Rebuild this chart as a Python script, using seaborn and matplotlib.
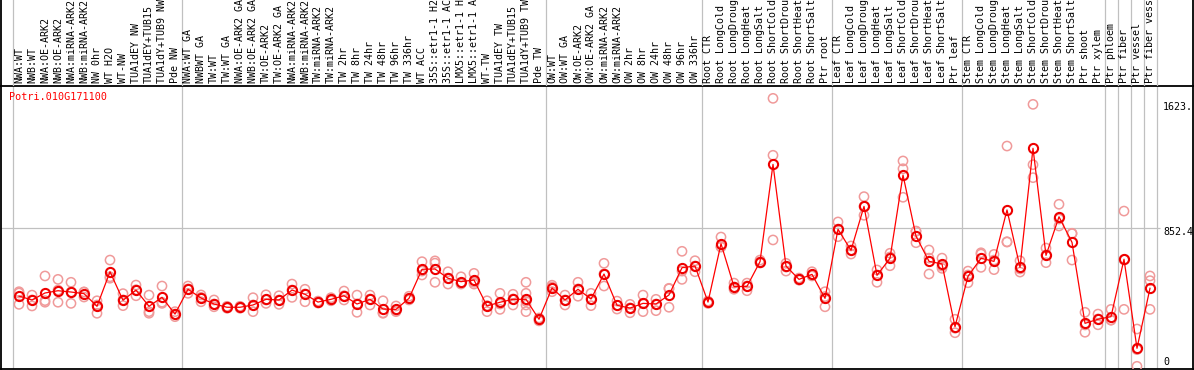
import numpy as np
import pandas as pd
import matplotlib
matplotlib.use("Agg")
import matplotlib.pyplot as plt
import seaborn as sns

gene = "Potri.010G171100"

labels = [
    "NWA:WT", "NWB:WT", "NWA:OE-ARK2", "NWB:OE-ARK2", "NWA:miRNA-ARK2", "NWB:miRNA-ARK2",
    "NW 0hr", "WT H2O", "WT-NW", "TUA1dEY NW", "TUA1dEY+TUB15", "TUA1dY+TUB9 NW", "Pde NW",
    "NWA:WT GA", "NWBWT GA", "TW:WT", "TW:WT GA", "NWA:OE-ARK2 GA", "NWB:OE-ARK2 GA",
    "TW:OE-ARK2", "TW:OE-ARK2 GA", "NWA:miRNA-ARK2", "NWB:miRNA-ARK2", "TW:miRNA-ARK2",
    "TW:miRNA-ARK2", "TW 2hr", "TW 8hr", "TW 24hr", "TW 48hr", "TW 96hr", "TW 336hr",
    "WT ACC", "35S::etr1-1 H2", "35S::etr1-1 AC", "LMX5::etr1-1 H", "LMX5::etr1-1 A",
    "WT-TW", "TUA1dEY TW", "TUA1dEY+TUB15", "TUA1dY+TUB9 TW", "Pde TW",
    "OW:WT", "OW:WT GA", "OW:OE-ARK2", "OW:OE-ARK2 GA", "OW:miRNA-ARK2", "OW:miRNA-ARK2",
    "OW 2hr", "OW 8hr", "OW 24hr", "OW 48hr", "OW 96hr", "OW 336hr",
    "Root CTR", "Root LongCold", "Root LongDroug", "Root LongHeat", "Root LongSalt",
    "Root ShortCold", "Root ShortDrou", "Root ShortHeat", "Root ShortSalt", "Ptr root",
    "Leaf CTR", "Leaf LongCold", "Leaf LongDroug", "Leaf LongHeat", "Leaf LongSalt",
    "Leaf ShortCold", "Leaf ShortDrou", "Leaf ShortHeat", "Leaf ShortSalt", "Ptr leaf",
    "Stem CTR", "Stem LongCold", "Stem LongDroug", "Stem LongHeat", "Stem LongSalt",
    "Stem ShortCold", "Stem ShortDrou", "Stem ShortHeat", "Stem ShortSalt", "Ptr shoot",
    "Ptr xylem", "Ptr phloem", "Ptr fiber", "Ptr vessel", "Ptr fiber vess",
]

means = [
    433, 409, 452, 466, 458, 448, 370, 583, 407, 470, 370, 425, 322,
    475, 421, 384, 364, 364, 378, 413, 409, 470, 444, 396, 413, 435, 384, 413, 353, 351,
    419, 598, 600, 543, 522, 532, 372, 395, 413, 413, 290,
    483, 409, 475, 415, 569, 376, 359, 388, 384, 440, 608, 618,
    396, 756, 491, 493, 645, 1245, 618, 536, 567, 419,
    845, 715, 986, 561, 666, 1179, 803, 647, 631, 244,
    555, 666, 647, 964, 610, 1344, 684, 922, 764, 265,
    290, 306, 660, 111, 481,
]

replicates = [
    [460, 452, 382], [439, 409, 372], [557, 405, 395], [536, 470, 395], [518, 458, 388],
    [427, 458, 458], [404, 378, 327], [655, 552, 543], [448, 409, 374], [501, 472, 435],
    [439, 337, 327], [495, 395, 388], [337, 322, 306],
    [495, 477, 450], [440, 425, 398], [409, 384, 367], [370, 364, 358], [370, 364, 358],
    [423, 378, 337], [441, 409, 388], [435, 409, 382], [507, 470, 425], [475, 446, 398],
    [402, 396, 390], [423, 409, 404], [464, 435, 409], [439, 384, 333], [439, 415, 378],
    [404, 330, 327], [372, 345, 337], [432, 419, 409], [645, 587, 563], [650, 636, 518],
    [583, 544, 507], [552, 513, 507], [573, 518, 507], [404, 374, 337], [450, 384, 351],
    [444, 415, 378], [518, 450, 400, 378, 337], [298, 290, 280],
    [500, 489, 460], [439, 409, 378], [518, 477, 432], [450, 415, 374], [635, 570, 495],
    [402, 376, 353], [382, 360, 330], [439, 388, 337], [413, 384, 343], [481, 478, 364],
    [709, 587, 536], [651, 618, 583],
    [402, 396, 388], [797, 737, 735], [513, 489, 475], [513, 495, 466], [655, 643, 637],
    [1652, 1301, 779], [635, 612, 587], [544, 532, 532], [583, 563, 557], [460, 430, 367],
    [890, 846, 799], [742, 717, 692], [1046, 986, 931], [594, 563, 518], [697, 674, 620],
    [1266, 1218, 1042], [834, 832, 762], [717, 667, 569], [667, 618, 604], [290, 235, 207],
    [587, 563, 515], [700, 692, 610], [690, 655, 596], [1358, 768, 766], [651, 600, 581],
    [1615, 1243, 1163], [729, 686, 639], [999, 908, 865], [820, 818, 655], [333, 255, 210],
    [322, 292, 256], [351, 285, 285], [957, 657, 351], [230, 103, 0], [557, 528, 351],
]

group_starts = [0, 13, 41, 53, 63, 73, 84, 85, 86, 87, 88]
grid_value = 852.4
ytick_values = [1623.0, 852.4, 0.0]
ytick_labels = ["1623.", "852.4", "0"]

# ---------------------------------------------------------------------------
W, H = 1194, 370
fig = plt.figure(figsize=(W / 100, H / 100), dpi=100)
fig.patch.set_facecolor("white")


def fx(p):
    return p / W


def fy(p):
    return 1 - p / H


top_line = 86
bottom_line = 369
ax = fig.add_axes([fx(1), fy(bottom_line), fx(1193) - fx(1), fy(top_line) - fy(bottom_line)])
ax_top = fig.add_axes([fx(1), fy(top_line), fx(1193) - fx(1), fy(0) - fy(top_line)])

n = len(labels)
pos = np.arange(n)
xlo = (1 - 19) / 13
xhi = (1193 - 19) / 13
ylo, yhi = -16.6, 1728.1

mono = "DejaVu Sans Mono"
gray = "#c0c0c0"

# group separators
for s in group_starts:
    ax.axvline(s - 0.5, color=gray, lw=0.9, zorder=1)
    ax_top.axvline(s - 0.5, color=gray, lw=0.9, zorder=1)

ax.hlines(grid_value, xlo, (1160 - 19) / 13, color=gray, lw=0.9, zorder=1)

rep_df = pd.DataFrame(
    [(i, v) for i, reps in enumerate(replicates) for v in reps], columns=["pos", "value"]
)
sns.scatterplot(data=rep_df, x="pos", y="value", ax=ax, s=44, marker="o",
                linewidth=1.1, zorder=3, legend=False)
coll = ax.collections[-1]
coll.set_facecolor("none")
coll.set_edgecolor("#f09a9a")

mean_df = pd.DataFrame({"pos": pos, "mean": means})
sns.lineplot(data=mean_df, x="pos", y="mean", ax=ax, color="#ff0000", lw=0.9,
             marker="o", markersize=6.6, markerfacecolor="none",
             markeredgecolor="#ee0000", markeredgewidth=1.5, zorder=4, legend=False)

ax.set_xlim(xlo, xhi)
ax.set_ylim(ylo, yhi)
ax.set_xticks([])
ax.set_yticks([])
ax.set_xlabel("")
ax.set_ylabel("")
for sp in ax.spines.values():
    sp.set_color("black")
    sp.set_linewidth(1.3)

ax_top.set_xlim(xlo, xhi)
ax_top.set_ylim(0, top_line)
ax_top.set_xticks([])
ax_top.set_yticks([])
ax_top.patch.set_alpha(0)
ax_top.spines["top"].set_visible(False)
ax_top.spines["bottom"].set_visible(False)
for side in ("left", "right"):
    ax_top.spines[side].set_color("black")
    ax_top.spines[side].set_linewidth(1.3)

for i, lab in enumerate(labels):
    ax_top.text(i, 3, lab, rotation=90, ha="center", va="bottom",
                family=mono, fontsize=7.2, color="black")

fig.text(fx(9), fy(97), gene, color="#ff0000", family=mono, fontsize=7.3,
         ha="left", va="center")

for v, lab in zip(ytick_values, ytick_labels):
    pix = top_line + (yhi - v) / (yhi - ylo) * (bottom_line - top_line) + 4
    pix = min(pix, 362)
    fig.text(fx(1163), fy(pix), lab, family=mono, fontsize=7.2, color="black",
             ha="left", va="center")

fig.savefig("out.png", dpi=100)
